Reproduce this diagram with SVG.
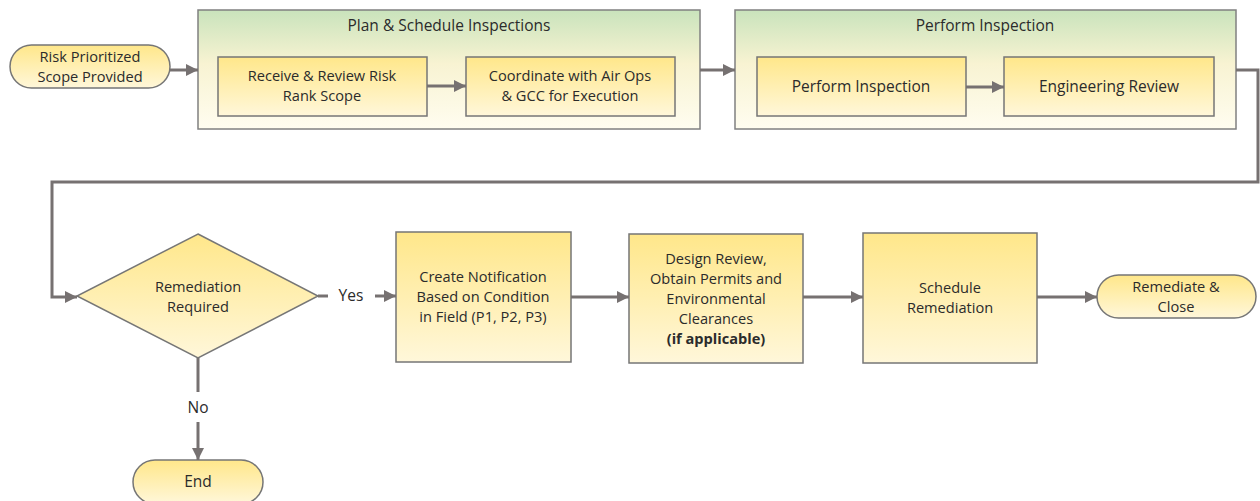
<svg xmlns="http://www.w3.org/2000/svg" width="1260" height="501" viewBox="0 0 1260 501">
<defs>
<linearGradient id="gy" x1="0" y1="0" x2="0" y2="1">
<stop offset="0" stop-color="#FFE78A"/>
<stop offset="1" stop-color="#FFF7DA"/>
</linearGradient>
<linearGradient id="gg" x1="0" y1="0" x2="0" y2="1">
<stop offset="0" stop-color="#C9E3BC"/>
<stop offset="0.45" stop-color="#F8F3D2"/>
<stop offset="1" stop-color="#FFFDF0"/>
</linearGradient>
<marker id="ah" viewBox="0 0 10 10" refX="10" refY="5" markerWidth="4" markerHeight="4" orient="auto" markerUnits="strokeWidth">
<path d="M0,0 L10,5 L0,10 z" fill="#767171"/>
</marker>
<style>
.box{fill:url(#gy);stroke:#767676;stroke-width:1.5}
.grp{fill:url(#gg);stroke:#808080;stroke-width:1.5}
.t{font-family:"Open Sans","Noto Sans","Liberation Sans",sans-serif;font-size:14.6px;fill:#2b2b2b;text-anchor:middle}
.tt{font-size:15.5px}
.b{font-weight:bold}
.c{fill:none;stroke:#767171;stroke-width:3}
.ca{fill:none;stroke:#767171;stroke-width:3;marker-end:url(#ah)}
</style>
</defs>
<rect width="1260" height="501" fill="#fff"/>

<g id="grp-plan">
<rect class="grp" x="198" y="10" width="502" height="119"/>
<text class="t tt" x="449" y="31">Plan &amp; Schedule Inspections</text>
</g>
<g id="grp-perform">
<rect class="grp" x="735" y="10" width="501" height="119"/>
<text class="t tt" x="985" y="31">Perform Inspection</text>
</g>

<g id="n-start">
<rect class="box" x="10" y="45" width="160" height="43" rx="21.5"/>
<text class="t" x="90" y="62">Risk Prioritized</text>
<text class="t" x="90" y="82">Scope Provided</text>
</g>
<g id="n-receive">
<rect class="box" x="218" y="57" width="209" height="59"/>
<text class="t" x="322" y="81">Receive &amp; Review Risk</text>
<text class="t" x="322" y="101">Rank Scope</text>
</g>
<g id="n-coord">
<rect class="box" x="466" y="57" width="209" height="59"/>
<text class="t" x="570" y="81">Coordinate with Air Ops</text>
<text class="t" x="570" y="101">&amp; GCC for Execution</text>
</g>
<g id="n-perform">
<rect class="box" x="757" y="57" width="209" height="59"/>
<text class="t tt" x="861" y="92">Perform Inspection</text>
</g>
<g id="n-eng">
<rect class="box" x="1004" y="57" width="210" height="59"/>
<text class="t tt" x="1109" y="92">Engineering Review</text>
</g>
<g id="n-decision">
<polygon class="box" points="198,234 318,296 198,358 77,296"/>
<text class="t" x="198" y="292">Remediation</text>
<text class="t" x="198" y="312">Required</text>
</g>
<g id="n-notify">
<rect class="box" x="396" y="232" width="175" height="130"/>
<text class="t" x="483" y="282">Create Notification</text>
<text class="t" x="483" y="302">Based on Condition</text>
<text class="t" x="483" y="322">in Field (P1, P2, P3)</text>
</g>
<g id="n-design">
<rect class="box" x="629" y="234" width="174" height="129"/>
<text class="t" x="716" y="264">Design Review,</text>
<text class="t" x="716" y="284">Obtain Permits and</text>
<text class="t" x="716" y="304">Environmental</text>
<text class="t" x="716" y="324">Clearances</text>
<text class="t b" x="716" y="344">(if applicable)</text>
</g>
<g id="n-schedule">
<rect class="box" x="863" y="233" width="174" height="130"/>
<text class="t" x="950" y="293">Schedule</text>
<text class="t" x="950" y="313">Remediation</text>
</g>
<g id="n-close">
<rect class="box" x="1097" y="275" width="159" height="43" rx="21.5"/>
<text class="t" x="1176" y="292">Remediate &amp;</text>
<text class="t" x="1176" y="312">Close</text>
</g>
<g id="n-end">
<rect class="box" x="133" y="460" width="130" height="44" rx="22"/>
<text class="t tt" x="198" y="487">End</text>
</g>

<g id="connectors">
<line class="ca" x1="170" y1="70" x2="198" y2="70"/>
<line class="ca" x1="427" y1="86" x2="466" y2="86"/>
<line class="ca" x1="700" y1="70" x2="735" y2="70"/>
<line class="ca" x1="966" y1="87" x2="1004" y2="87"/>
<polyline class="ca" points="1236,70 1258,70 1258,182 52,182 52,297 77,297"/>
<line class="c" x1="318" y1="296" x2="328" y2="296"/>
<text class="t tt" x="351" y="301">Yes</text>
<line class="ca" x1="375" y1="296" x2="396" y2="296"/>
<line class="ca" x1="571" y1="297" x2="629" y2="297"/>
<line class="ca" x1="803" y1="297" x2="863" y2="297"/>
<line class="ca" x1="1037" y1="297" x2="1097" y2="297"/>
<line class="c" x1="198" y1="358" x2="198" y2="392"/>
<text class="t tt" x="198" y="413">No</text>
<line class="ca" x1="198" y1="422" x2="198" y2="460"/>
</g>
</svg>
